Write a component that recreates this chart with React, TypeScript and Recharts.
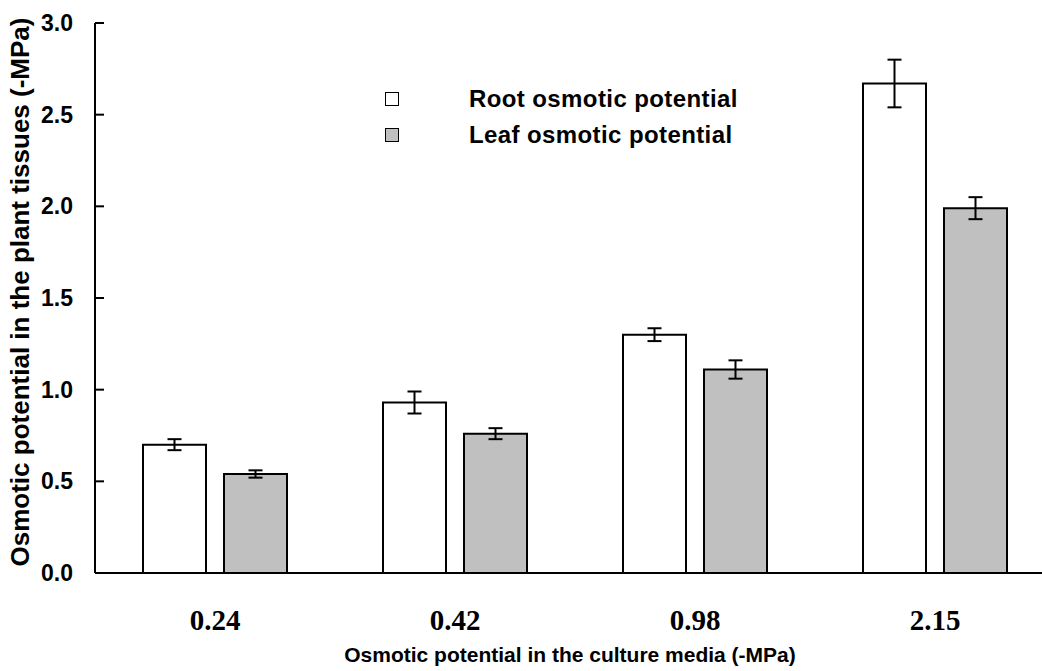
import { BarChart, Bar, XAxis, YAxis, ErrorBar, Legend, Label } from 'recharts';

const media = ['0.24', '0.42', '0.98', '2.15'];
const rootValues = [0.7, 0.93, 1.3, 2.67];
const rootErrors = [0.03, 0.06, 0.035, 0.13];
const leafValues = [0.54, 0.76, 1.11, 1.99];
const leafErrors = [0.02, 0.03, 0.05, 0.06];
const yTicks = [0, 0.5, 1, 1.5, 2, 2.5, 3];
const seriesNames = ['Root osmotic potential', 'Leaf osmotic potential'];

const data = media.map((m, i) => ({
  media: m,
  root: rootValues[i],
  rootErr: rootErrors[i],
  leaf: leafValues[i],
  leafErr: leafErrors[i],
}));

const SANS = '"Liberation Sans", Arial, sans-serif';
const SERIF = '"Liberation Serif", "Times New Roman", serif';

function YTick({ x, y, payload }: any) {
  const axisX = x + 22;
  return (
    <g>
      <line x1={axisX} x2={axisX + 9} y1={y} y2={y} stroke="#000" strokeWidth={2} />
      <text x={x} y={y} textAnchor="end" dominantBaseline="central" fontFamily={SANS} fontWeight="bold" fontSize={23} fill="#000">
        {Number(payload.value).toFixed(1)}
      </text>
    </g>
  );
}

function XTick({ x, y, payload }: any) {
  return (
    <text x={x} y={y + 57} textAnchor="middle" fontFamily={SERIF} fontWeight="bold" fontSize={29} fill="#000">
      {payload.value}
    </text>
  );
}

function YTitle() {
  const cx = 20;
  const cy = 292;
  return (
    <text
      x={cx}
      y={cy}
      transform={`rotate(-90 ${cx} ${cy})`}
      textAnchor="middle"
      dominantBaseline="central"
      fontFamily={SANS}
      fontWeight="bold"
      fontSize={26}
      fill="#000"
    >
      Osmotic potential in the plant tissues (-MPa)
    </text>
  );
}

function LegendBox({ payload }: any) {
  const items = [...(payload || [])].sort(
    (a: any, b: any) => seriesNames.indexOf(a.value) - seriesNames.indexOf(b.value)
  );
  return (
    <div>
      {items.map((e: any) => (
        <div key={e.value} style={{ display: 'flex', alignItems: 'center', height: 36 }}>
          <span
            style={{
              display: 'inline-block',
              width: 12,
              height: 12,
              border: '1.5px solid #000',
              background: e.color,
              marginRight: 70,
            }}
          />
          <span style={{ fontFamily: SANS, fontWeight: 'bold', fontSize: 24, letterSpacing: 0.4, color: '#000' }}>{e.value}</span>
        </div>
      ))}
    </div>
  );
}

export default function App() {
  return (
    <div style={{ position: 'absolute', left: 0, top: 0, width: 1042, height: 671, overflow: 'hidden', background: '#fff' }}>
      <BarChart
        width={1070}
        height={671}
        data={data}
        margin={{ top: 23, right: 15, bottom: 0, left: 0 }}
        barSize={63}
        barGap={18}
      >
        <XAxis
          dataKey="media"
          height={98}
          axisLine={{ stroke: '#000', strokeWidth: 2 }}
          tickLine={false}
          tickSize={0}
          tickMargin={0}
          tick={<XTick />}
          interval={0}
        >
          <Label
            value="Osmotic potential in the culture media (-MPa)"
            position="insideBottom"
            offset={9}
            dx={-5}
            style={{ fontFamily: SANS, fontWeight: 'bold', fontSize: 21, fill: '#000' }}
          />
        </XAxis>
        <YAxis
          width={95}
          domain={[0, 3]}
          ticks={yTicks}
          interval={0}
          axisLine={{ stroke: '#000', strokeWidth: 2 }}
          tickLine={false}
          tickSize={0}
          tickMargin={22}
          tick={<YTick />}
        >
          <Label content={<YTitle />} />
        </YAxis>
        <Legend
          layout="vertical"
          align="center"
          verticalAlign="middle"
          wrapperStyle={{ position: 'absolute', left: 385, top: 81, width: 460 }}
          content={<LegendBox />}
        />
        <Bar dataKey="root" name={seriesNames[0]} fill="#ffffff" stroke="#000" strokeWidth={2} isAnimationActive={false}>
          <ErrorBar dataKey="rootErr" width={7} stroke="#000" strokeWidth={2} isAnimationActive={false} />
        </Bar>
        <Bar dataKey="leaf" name={seriesNames[1]} fill="#c0c0c0" stroke="#000" strokeWidth={2} isAnimationActive={false}>
          <ErrorBar dataKey="leafErr" width={7} stroke="#000" strokeWidth={2} isAnimationActive={false} />
        </Bar>
      </BarChart>
    </div>
  );
}
